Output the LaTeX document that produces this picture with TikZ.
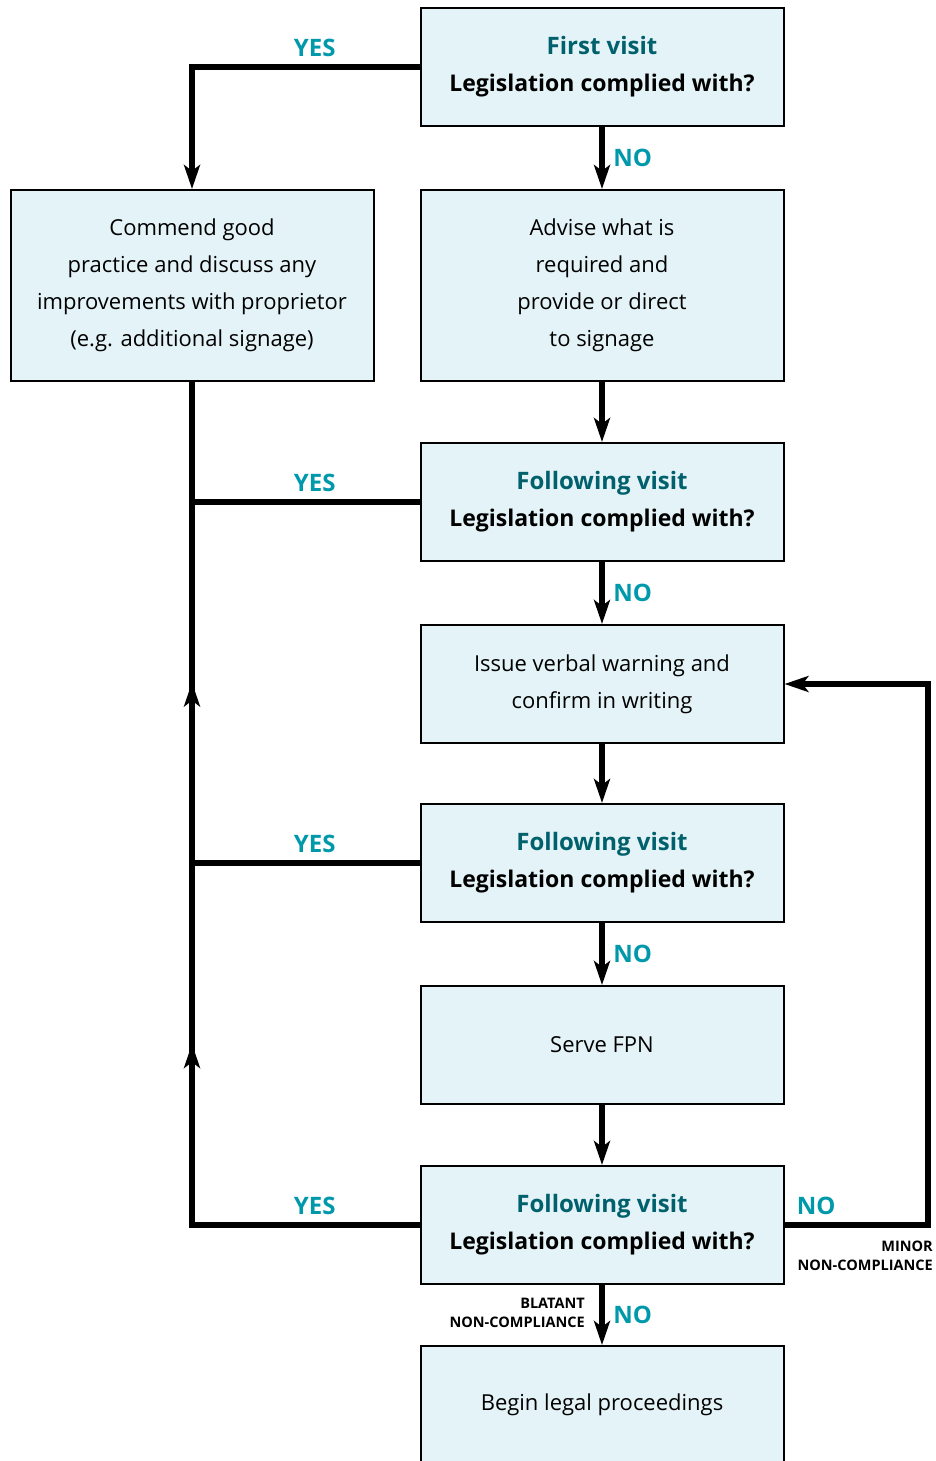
\documentclass[tikz,border=0pt]{standalone}
\usepackage{fontspec}
\setmainfont{Open Sans}
\usetikzlibrary{arrows.meta,decorations.markings}
\definecolor{boxfill}{RGB}{228,243,247}
\definecolor{titleteal}{RGB}{0,96,108}
\definecolor{answerteal}{RGB}{0,153,172}
\begin{document}
\begin{tikzpicture}
[x=1pt,y=-1pt,
  boxdecorate/.style={shape=rectangle,draw,line width=2pt,fill=boxfill,
    minimum width=363pt,minimum height=118pt,inner sep=0pt,align=center,
    font=\fontsize{22}{37}\selectfont},
  decisionbox/.style={boxdecorate,font=\bfseries\fontsize{23}{37}\selectfont},
  tallbox/.style={boxdecorate,minimum height=191pt},
  plainline/.style={line width=6pt},
  flowline/.style={line width=6pt,-{Stealth[length=24pt,width=16pt,inset=6pt]}},
  midarrow/.style={postaction={decorate},decoration={markings,
    mark=at position 0.5 with {\arrow{Stealth[length=24pt,width=16pt,inset=6pt]}}}},
  answer/.style={text=answerteal,font=\bfseries\fontsize{24}{26}\selectfont},
  smallnote/.style={font=\bfseries\fontsize{14.5}{19}\selectfont,align=right,inner sep=0pt}]
\useasboundingbox[fill=white] (0,0) rectangle (936,1461);
%% decision boxes
\foreach \nodename/\y/\title in {
  fv/67/First visit, fa/502/Following visit,
  fb/863/Following visit, fc/1225/Following visit}
{
  \node (\nodename) at (602,\y) [decisionbox]
    {{\fontsize{24}{37}\selectfont\color{titleteal}\title}\\Legislation complied with?};
}
%% action boxes
\node (commend) at (192,285.5) [tallbox]
  {Commend good\\practice and discuss any\\improvements with proprietor\\(e.g. additional signage)};
\node (advise) at (602,285.5) [tallbox]
  {Advise what is\\required and\\provide or direct\\to signage};
\node (warn) at (602,684) [boxdecorate] {Issue verbal warning and\\confirm in writing};
\node (fpn) at (602,1045) [boxdecorate] {Serve FPN};
\node (legal) at (602,1405) [boxdecorate] {Begin legal proceedings};
%% NO path down the right column
\draw[flowline] (fv.south) -- node[answer,right,xshift=5pt] {NO} (advise.north);
\draw[flowline] (advise.south) -- (fa.north);
\draw[flowline] (fa.south) -- node[answer,right,xshift=5pt] {NO} (warn.north);
\draw[flowline] (warn.south) -- (fb.north);
\draw[flowline] (fb.south) -- node[answer,right,xshift=5pt] {NO} (fpn.north);
\draw[flowline] (fpn.south) -- (fc.north);
\draw[flowline] (fc.south) -- node[answer,right,xshift=5pt] {NO} (legal.north);
\node (blatant) at (585,1298) [smallnote,anchor=north east] {BLATANT\\NON-COMPLIANCE};
%% YES path up the left column
\draw[flowline] (fv.west) -| node[pos=0.25,answer,above,xshift=9pt,yshift=4pt] {YES} (commend.north);
\coordinate (ja) at (commend.south |- fa.west);
\coordinate (jb) at (commend.south |- fb.west);
\coordinate (jc) at (commend.south |- fc.west);
\draw[plainline] (fc.west) -- node[answer,above,xshift=9pt,yshift=4pt] {YES} (jc) -- (commend.south);
\draw[plainline] (fb.west) -- node[answer,above,xshift=9pt,yshift=4pt] {YES} (jb);
\draw[plainline] (fa.west) -- node[answer,above,xshift=9pt,yshift=4pt] {YES} (ja);
\draw[plainline,midarrow] (jc) -- (jb);
\draw[plainline,midarrow] (jb) -- (ja);
%% loop back for minor non-compliance
\coordinate (loopcorner) at (928,1225);
\draw[flowline] (fc.east) -- node[pos=0.22,answer,above,yshift=4pt] {NO} (loopcorner) |- (warn.east);
\node (minor) at (933,1241) [smallnote,anchor=north east] {MINOR\\NON-COMPLIANCE};
\end{tikzpicture}
\end{document}
